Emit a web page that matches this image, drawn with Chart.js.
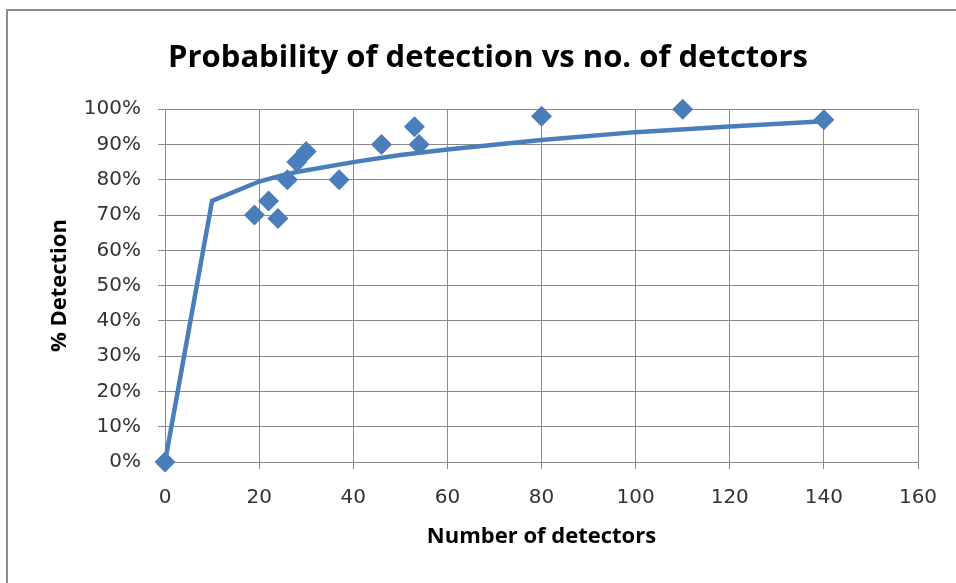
<!DOCTYPE html>
<html><head><meta charset="utf-8">
<script src="https://cdn.jsdelivr.net/npm/chart.js@4/dist/chart.umd.min.js"></script>
<style>html,body{margin:0;padding:0;background:#fff;}canvas{display:block;}</style>
</head><body>
<canvas id="c" width="956" height="583"></canvas>
<script>
// Observed data (number of detectors vs % detection)
const detectors = [0, 19, 22, 24, 26, 28, 30, 37, 46, 53, 54, 80, 110, 140];
const detection = [0, 70, 74, 69, 80, 85, 88, 80, 90, 95, 90, 98, 100, 97];
// Fitted curve as drawn in the reference
const curveX = [0, 10, 20, 25, 28, 40, 50, 60, 80, 100, 120, 140];
const curveY = [0, 74, 79.5, 81.3, 82.2, 85, 87, 88.6, 91.3, 93.5, 95.1, 96.6];
const xTicks = [0, 20, 40, 60, 80, 100, 120, 140, 160];
const yTicks = [0, 10, 20, 30, 40, 50, 60, 70, 80, 90, 100];

const titleText = 'Probability of detection vs no. of detctors';
const xTitle = 'Number of detectors';
const yTitle = '% Detection';

const BLUE = '#4a7ebb';
const GRID = '#8a8a8a';
const FONT = "'Open Sans', 'DejaVu Sans', sans-serif";
const TICKFONT = "'DejaVu Sans', 'Open Sans', sans-serif";

const frame = {
  id: 'frame',
  beforeDraw(chart) {
    const ctx = chart.ctx;
    ctx.save();
    ctx.fillStyle = '#fff';
    ctx.fillRect(0, 0, chart.width, chart.height);
    ctx.strokeStyle = '#8c8c8c';
    ctx.lineWidth = 2;
    ctx.strokeRect(7, 10, chart.width + 20, chart.height + 20);
    ctx.restore();
  }
};

new Chart(document.getElementById('c'), {
  type: 'scatter',
  data: {
    datasets: [
      {
        label: 'Detection',
        data: detectors.map((x, i) => ({x, y: detection[i]})),
        pointStyle: 'rectRot',
        pointRadius: 10.5,
        pointHoverRadius: 10.5,
        backgroundColor: BLUE,
        borderColor: BLUE,
        borderWidth: 0,
        showLine: false,
        clip: false,
        order: 1
      },
      {
        label: 'Fit',
        data: curveX.map((x, i) => ({x, y: curveY[i]})),
        showLine: true,
        pointRadius: 0,
        borderColor: BLUE,
        borderWidth: 4.5,
        fill: false,
        tension: 0,
        clip: false,
        order: 2
      }
    ]
  },
  options: {
    responsive: false,
    animation: false,
    devicePixelRatio: 1,
    layout: { padding: { left: 58, right: 38, top: 0, bottom: 0 } },
    plugins: {
      legend: { display: false },
      tooltip: { enabled: false },
      title: {
        display: true,
        text: titleText,
        color: '#000',
        font: { family: FONT, size: 31, weight: 'bold' },
        padding: { top: 40, bottom: 32 }
      }
    },
    scales: {
      x: {
        type: 'linear',
        min: 0, max: 160,
        afterBuildTicks: s => { s.ticks = xTicks.map(v => ({value: v})); },
        afterFit: s => { s.height = 121; },
        ticks: { color: '#333', font: { family: TICKFONT, size: 20 }, padding: 17, maxRotation: 0 },
        grid: { color: GRID, lineWidth: 1, tickLength: 7, tickColor: GRID },
        border: { color: GRID, width: 1 },
        title: { display: true, text: xTitle, color: '#000', font: { family: FONT, size: 22, weight: 'bold' }, padding: { top: 0, bottom: 33 } }
      },
      y: {
        type: 'linear',
        min: 0, max: 100,
        afterBuildTicks: s => { s.ticks = yTicks.map(v => ({value: v})); },
        afterFit: s => { s.width = 107; },
        ticks: { color: '#333', font: { family: TICKFONT, size: 20 }, padding: 17, callback: v => v + '%' },
        grid: { color: GRID, lineWidth: 1, tickLength: 7, tickColor: GRID },
        border: { color: GRID, width: 1 },
        title: { display: true, text: yTitle, color: '#000', font: { family: FONT, size: 22, weight: 'bold' }, padding: { top: -11, bottom: 0 } }
      }
    }
  },
  plugins: [frame]
});
</script>
</body></html>
